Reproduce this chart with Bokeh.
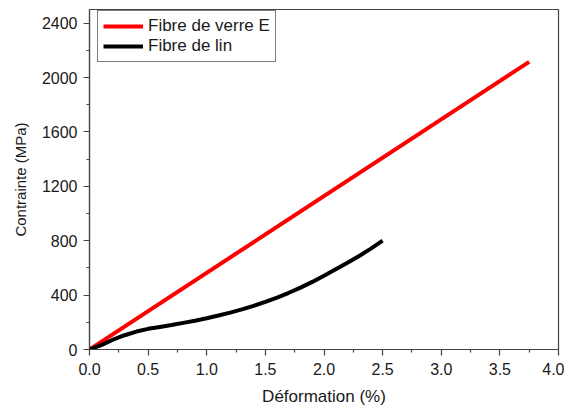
from bokeh.plotting import figure
from bokeh.embed import file_html
from bokeh.resources import INLINE
from bokeh.models import Range1d, FixedTicker, Legend, LegendItem, CustomJSTickFormatter

# Data
glass_x = [0.0, 3.75]
glass_y = [0.0, 2115.0]
flax_x = [0.0, 0.1, 0.2, 0.3, 0.4, 0.5, 0.6, 0.7, 0.8, 0.9, 1.0, 1.1, 1.2, 1.3,
          1.4, 1.5, 1.6, 1.7, 1.8, 1.9, 2.0, 2.1, 2.2, 2.3, 2.4, 2.5]
flax_y = [0, 32, 72, 105, 132, 152, 166, 180, 196, 212, 230, 250, 271, 295,
          321, 350, 382, 417, 455, 497, 543, 590, 638, 688, 742, 800]
x_ticks = [0.0, 0.5, 1.0, 1.5, 2.0, 2.5, 3.0, 3.5, 4.0]
x_minor = [0.25, 0.75, 1.25, 1.75, 2.25, 2.75, 3.25, 3.75]
y_ticks = [0, 400, 800, 1200, 1600, 2000, 2400]
y_minor = [200, 600, 1000, 1400, 1800, 2200]
labels = ["Fibre de verre E", "Fibre de lin"]

FONT = "Liberation Sans"
TXT = "#1a1a1a"
AX = "#444444"

p = figure(width=564, height=408, output_backend="svg", toolbar_location=None,
           x_range=Range1d(0, 4), y_range=Range1d(0, 2500),
           min_border_left=89, min_border_right=6, min_border_top=9, min_border_bottom=59)

p.xgrid.visible = False
p.ygrid.visible = False
p.outline_line_color = AX
p.outline_line_width = 1.2
p.background_fill_color = "white"
p.border_fill_color = "white"

r1 = p.line(glass_x, glass_y, line_color="#ff0000", line_width=4)
r2 = p.line(flax_x, flax_y, line_color="black", line_width=4)

p.xaxis.ticker = FixedTicker(ticks=x_ticks, minor_ticks=x_minor)
p.yaxis.ticker = FixedTicker(ticks=y_ticks, minor_ticks=y_minor)
p.xaxis.formatter = CustomJSTickFormatter(code="return tick.toFixed(1);")
p.yaxis.formatter = CustomJSTickFormatter(code="return tick.toFixed(0);")

for ax in (p.xaxis, p.yaxis):
    ax.axis_line_color = AX
    ax.axis_line_width = 1.2
    ax.major_tick_line_color = AX
    ax.minor_tick_line_color = AX
    ax.major_tick_line_width = 1.2
    ax.minor_tick_line_width = 1.2
    ax.major_tick_in = 0
    ax.major_tick_out = 6
    ax.minor_tick_in = 0
    ax.minor_tick_out = 3
    ax.major_label_text_font = FONT
    ax.major_label_text_font_size = "16px"
    ax.major_label_text_color = TXT
    ax.axis_label_text_font = FONT
    ax.axis_label_text_font_style = "normal"
    ax.axis_label_text_color = TXT

p.xaxis.axis_label = "Déformation (%)"
p.yaxis.axis_label = "Contrainte (MPa)"
p.xaxis.axis_label_text_font_size = "17px"
p.yaxis.axis_label_text_font_size = "15px"
p.xaxis.major_label_standoff = 7
p.yaxis.major_label_standoff = 6
p.xaxis.axis_label_standoff = 9
p.yaxis.axis_label_standoff = 10

legend = Legend(items=[LegendItem(label=labels[0], renderers=[r1]),
                       LegendItem(label=labels[1], renderers=[r2])],
                location=(8, 287))
legend.margin = 0
legend.padding = 5
legend.spacing = 0
legend.glyph_width = 40
legend.glyph_height = 18
legend.label_height = 18
legend.label_standoff = 5
legend.label_text_font = FONT
legend.label_text_font_size = "17px"
legend.label_text_color = TXT
legend.border_line_color = "black"
legend.border_line_width = 1.2
legend.background_fill_alpha = 1
p.add_layout(legend)

open("out.html", "w").write(file_html(p, INLINE))
